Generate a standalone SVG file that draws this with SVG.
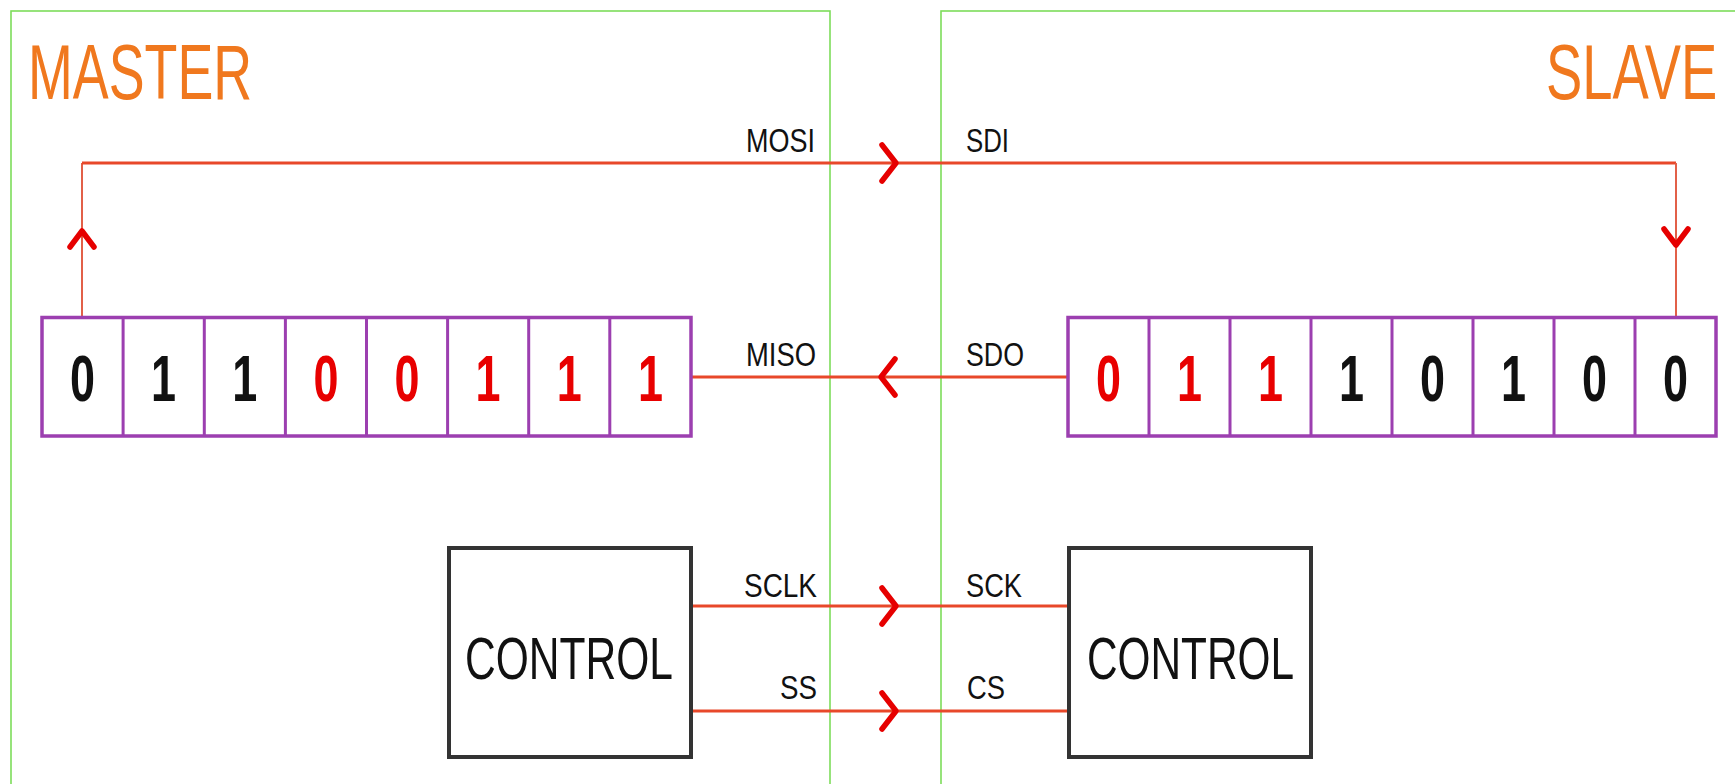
<svg xmlns="http://www.w3.org/2000/svg" xmlns:xlink="http://www.w3.org/1999/xlink" width="1735" height="784" viewBox="0 0 1735 784">
<style>
.panel{fill:none;stroke:#7ddc5a;stroke-width:1.6}
.title{font-family:"Liberation Sans",Arial,sans-serif;font-size:78px;fill:#f0781e}
.reg{fill:#fff;stroke:#9c3fb0;stroke-width:3.5}
.div{stroke:#9c3fb0;stroke-width:3}
.bit{font-family:"Liberation Sans",Arial,sans-serif;font-weight:bold;font-size:64px;text-anchor:middle}
.k{fill:#111}
.r{fill:#e80000}
.ctl{fill:#fff;stroke:#333;stroke-width:4}
.ctltxt{font-family:"Liberation Sans",Arial,sans-serif;font-size:60px;fill:#111}
.wire{fill:none;stroke:#e8482a;stroke-width:3}
.wirev{fill:none;stroke:#e26048;stroke-width:2}
.chev{fill:none;stroke:#e60000;stroke-width:5.5;stroke-linecap:round;stroke-linejoin:round}
.lbl{font-family:"Liberation Sans",Arial,sans-serif;font-size:34px;fill:#111}
.end{text-anchor:end}
</style>
<defs>
<path id="chevH" d="M-14,-18 L0,0 L-14,18"/>
<path id="chevV" d="M-12,16 L0,0 L12,16"/>
</defs>
<rect width="1735" height="784" fill="#fff"/>

<g id="master-panel">
<rect class="panel" x="11" y="11" width="819" height="790"/>
<text class="title" transform="translate(28,99) scale(0.69,1)">MASTER</text>
</g>
<g id="slave-panel">
<rect class="panel" x="941" y="11" width="820" height="790"/>
<text class="title" transform="translate(1546,99) scale(0.697,1)">SLAVE</text>
</g>

<g id="connectors">
<g id="mosi">
<path class="wirev" d="M82,317 V163"/>
<path class="wire" d="M82,163 H1676"/>
<path class="wirev" d="M1676,163 V317"/>
<use href="#chevV" class="chev" transform="translate(82,231)"/>
<use href="#chevH" class="chev" transform="translate(896,163)"/>
<use href="#chevV" class="chev" transform="translate(1676,245) rotate(180)"/>
<text class="lbl end" x="815" y="152" textLength="69" lengthAdjust="spacingAndGlyphs">MOSI</text>
<text class="lbl" x="966" y="152" textLength="43" lengthAdjust="spacingAndGlyphs">SDI</text>
</g>
<g id="miso">
<path class="wire" d="M1068,377 H691"/>
<use href="#chevH" class="chev" transform="translate(881,377) rotate(180)"/>
<text class="lbl end" x="816" y="366" textLength="70" lengthAdjust="spacingAndGlyphs">MISO</text>
<text class="lbl" x="966" y="366" textLength="58" lengthAdjust="spacingAndGlyphs">SDO</text>
</g>
<g id="sclk">
<path class="wire" d="M693,606 H1067"/>
<use href="#chevH" class="chev" transform="translate(896,606)"/>
<text class="lbl end" x="817" y="597" textLength="73" lengthAdjust="spacingAndGlyphs">SCLK</text>
<text class="lbl" x="966" y="597" textLength="56" lengthAdjust="spacingAndGlyphs">SCK</text>
</g>
<g id="ss">
<path class="wire" d="M693,711 H1067"/>
<use href="#chevH" class="chev" transform="translate(896,711)"/>
<text class="lbl end" x="817" y="699" textLength="37" lengthAdjust="spacingAndGlyphs">SS</text>
<text class="lbl" x="967" y="699" textLength="38" lengthAdjust="spacingAndGlyphs">CS</text>
</g>
</g>

<g id="master-register">
<rect class="reg" x="42" y="317.5" width="649" height="118.5"/>
<path class="div" d="M123.1,317.5V436 M204.3,317.5V436 M285.4,317.5V436 M366.5,317.5V436 M447.6,317.5V436 M528.7,317.5V436 M609.8,317.5V436"/>
<text class="bit k" x="82.5" y="401" textLength="25" lengthAdjust="spacingAndGlyphs">0</text>
<text class="bit k" x="163.6" y="401" textLength="25" lengthAdjust="spacingAndGlyphs">1</text>
<text class="bit k" x="244.7" y="401" textLength="25" lengthAdjust="spacingAndGlyphs">1</text>
<text class="bit r" x="325.9" y="401" textLength="25" lengthAdjust="spacingAndGlyphs">0</text>
<text class="bit r" x="407" y="401" textLength="25" lengthAdjust="spacingAndGlyphs">0</text>
<text class="bit r" x="488.1" y="401" textLength="25" lengthAdjust="spacingAndGlyphs">1</text>
<text class="bit r" x="569.2" y="401" textLength="25" lengthAdjust="spacingAndGlyphs">1</text>
<text class="bit r" x="650.4" y="401" textLength="25" lengthAdjust="spacingAndGlyphs">1</text>
</g>

<g id="slave-register">
<rect class="reg" x="1068" y="317.5" width="648" height="118.5"/>
<path class="div" d="M1149,317.5V436 M1230,317.5V436 M1311,317.5V436 M1392,317.5V436 M1473,317.5V436 M1554,317.5V436 M1635,317.5V436"/>
<text class="bit r" x="1108.5" y="401" textLength="25" lengthAdjust="spacingAndGlyphs">0</text>
<text class="bit r" x="1189.5" y="401" textLength="25" lengthAdjust="spacingAndGlyphs">1</text>
<text class="bit r" x="1270.5" y="401" textLength="25" lengthAdjust="spacingAndGlyphs">1</text>
<text class="bit k" x="1351.5" y="401" textLength="25" lengthAdjust="spacingAndGlyphs">1</text>
<text class="bit k" x="1432.5" y="401" textLength="25" lengthAdjust="spacingAndGlyphs">0</text>
<text class="bit k" x="1513.5" y="401" textLength="25" lengthAdjust="spacingAndGlyphs">1</text>
<text class="bit k" x="1594.5" y="401" textLength="25" lengthAdjust="spacingAndGlyphs">0</text>
<text class="bit k" x="1675.5" y="401" textLength="25" lengthAdjust="spacingAndGlyphs">0</text>
</g>

<g id="master-control">
<rect class="ctl" x="449" y="548" width="242" height="209"/>
<text class="ctltxt" x="465" y="679" textLength="208" lengthAdjust="spacingAndGlyphs">CONTROL</text>
</g>
<g id="slave-control">
<rect class="ctl" x="1069" y="548" width="242" height="209"/>
<text class="ctltxt" x="1087" y="679" textLength="207" lengthAdjust="spacingAndGlyphs">CONTROL</text>
</g>
</svg>
